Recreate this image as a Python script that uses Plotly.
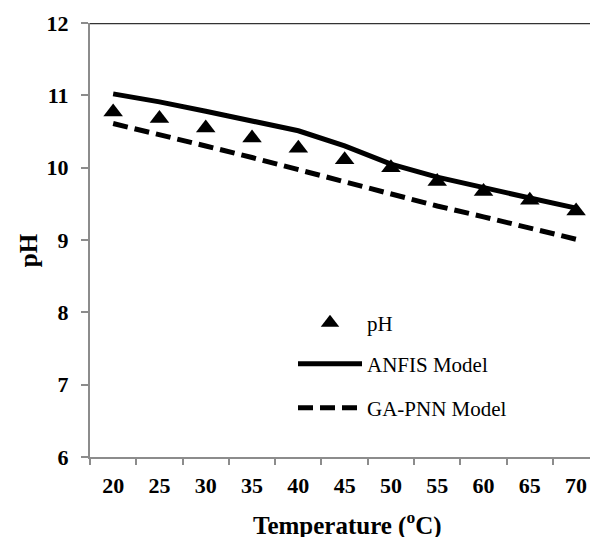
import plotly.graph_objects as go

temps = ["20", "25", "30", "35", "40", "45", "50", "55", "60", "65", "70"]
ph_measured = [10.77, 10.68, 10.55, 10.41, 10.27, 10.11, 10.00, 9.81, 9.67, 9.55, 9.40]
anfis_model = [11.02, 10.91, 10.78, 10.65, 10.51, 10.30, 10.05, 9.87, 9.72, 9.58, 9.44]
gapnn_model = [10.61, 10.46, 10.30, 10.14, 9.97, 9.80, 9.63, 9.47, 9.32, 9.17, 9.01]
y_ticks = [6, 7, 8, 9, 10, 11, 12]

SERIF = "Liberation Serif"

fig = go.Figure()
fig.add_trace(go.Scatter(
    x=temps, y=gapnn_model, mode="lines", name="GA-PNN Model",
    line=dict(color="black", width=5, dash="15px,7px"), legend="legend3"))
fig.add_trace(go.Scatter(
    x=temps, y=anfis_model, mode="lines", name="ANFIS Model",
    line=dict(color="black", width=5), legend="legend2"))
fig.add_trace(go.Scatter(
    x=temps, y=ph_measured, mode="markers", name="pH",
    marker=dict(symbol="triangle-up", color="black", size=17), legend="legend"))

leg_common = dict(font=dict(family=SERIF, size=21, color="black"),
                  bgcolor="rgba(0,0,0,0)", itemwidth=64,
                  xanchor="left", yanchor="middle", xref="paper", yref="paper")

def py(ypix):
    return (457 - ypix) / (457 - 22.7)

def px(xpix):
    return (xpix - 90) / 500.0

fig.update_layout(
    width=590, height=537,
    margin=dict(l=90, r=0, t=22.7, b=80),
    paper_bgcolor="white", plot_bgcolor="white",
    showlegend=True,
    legend=dict(x=px(293), y=py(323), **leg_common),
    legend2=dict(x=px(293), y=py(364), **leg_common),
    legend3=dict(x=px(293), y=py(408), **leg_common),
    xaxis=dict(
        type="category", range=[-0.5, 10.30], tickson="boundaries",
        showline=True, linecolor="#8c8c8c", linewidth=2,
        ticks="outside", ticklen=6, tickcolor="#8c8c8c", tickwidth=1.5,
        showgrid=False, zeroline=False, automargin=False, ticklabelstandoff=8,
        tickfont=dict(family=SERIF, size=22, color="black", weight="bold"),
    ),
    yaxis=dict(
        range=[6, 12], tickvals=y_ticks,
        showline=True, linecolor="#8c8c8c", linewidth=2,
        ticks="outside", ticklen=7, tickcolor="#8c8c8c", tickwidth=1.5,
        showgrid=False, zeroline=False, ticklabelstandoff=8, automargin=False,
        tickfont=dict(family=SERIF, size=22, color="black", weight="bold"),
    ),
    shapes=[dict(type="line", xref="paper", yref="y", x0=0, x1=1, y0=12, y1=12,
                 line=dict(color="#333333", width=2.5))],
    annotations=[
        dict(text="Temperature (<sup>o</sup>C)", xref="paper", yref="paper",
             x=px(347), y=py(524), showarrow=False, xanchor="center", yanchor="middle",
             font=dict(family=SERIF, size=25, color="black", weight="bold")),
        dict(text="pH", xref="paper", yref="paper", textangle=-90,
             x=px(28), y=py(250), showarrow=False, xanchor="center", yanchor="middle",
             font=dict(family=SERIF, size=25, color="black", weight="bold")),
    ],
)

fig.write_html("out.html", config={"displayModeBar": False},
               post_script="document.body.style.margin='0';")
